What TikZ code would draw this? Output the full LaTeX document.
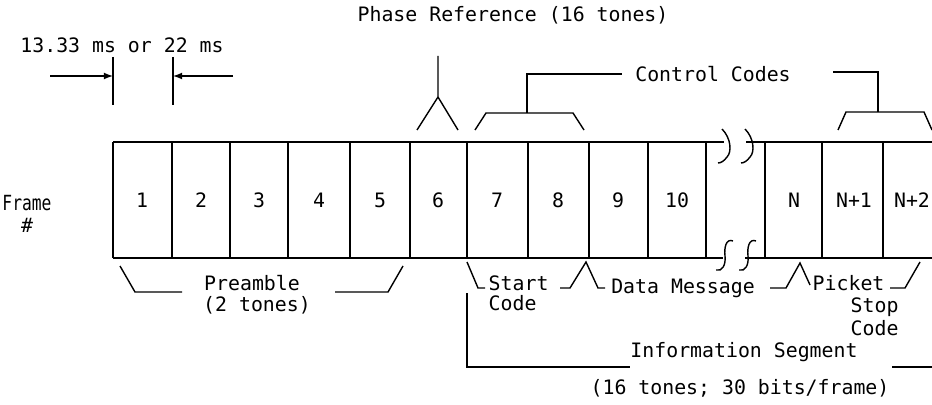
\documentclass[tikz,border=0pt]{standalone}
\usepackage{fontspec}
\setmonofont{DejaVu Sans Mono}

\begin{document}
\begin{tikzpicture}[x=0.02cm, y=-0.02cm, line width=0.8pt,
        every node/.style={font=\ttfamily\fontsize{11.3}{13}\selectfont, inner sep=0pt}]
        \useasboundingbox (0,0) rectangle (932,405);
        %\draw[step=50,gray,very thin] (0,0) grid (932,405);

        % the strip of frames
        \draw (113,142) -- (724,142) (746,142) -- (932,142);
        \draw (113,258) -- (723,258) (745,258) -- (932,258);
        \foreach \x in {113,172,230,288,350,410,467,528,589,648,706,765,822,883}
            \draw (\x,142) -- (\x,258);

        \foreach \x/\n/\name in {142/1/f_one, 201/2/f_two, 259/3/f_three, 319/4/f_four,
                380/5/f_five, 438/6/f_six, 497/7/f_seven, 558/8/f_eight, 618/9/f_nine,
                677/10/f_ten, 794/N/f_n, 854/N+1/f_na, 912/N+2/f_nb}
            \node (\name) at (\x,200) {\n};

        % breaks
        \foreach \dx in {0,23} {
            \draw[shift={(\dx,0)}] (722,129) .. controls (731,138) and (732,152) .. (727,157)
                .. controls (724,161) and (721,163) .. (718,163);
            \draw[shift={(\dx,0)}] (733,241) .. controls (726,238) and (724,248) .. (725,256)
                .. controls (726,265) and (722,272) .. (716,270);
        }

        \node (frame) at (27,203) {\scalebox{0.82}[1.05]{Frame}};
        \node (hash) at (27,225) {\#};

        % frame period
        \node (period) at (122,45) {13.33 ms or 22 ms};
        \coordinate (tick_l) at (113,76);
        \coordinate (tick_r) at (173,76);
        \draw (113,57) -- (113,105);
        \draw (173,57) -- (173,105);
        \draw[-latex] (50,76) -- (tick_l);
        \draw[-latex] (233,76) -- (tick_r);

        % phase reference
        \node (phase) at (513,15) {Phase Reference (16 tones)};
        \coordinate (ph_fork) at (438,97);
        \draw (438,56) -- (ph_fork) -- (417,130);
        \draw (ph_fork) -- (458,130);

        % control codes
        \node (ctrl) at (713,74) {Control Codes};
        \coordinate (cc_a) at (527,113);
        \coordinate (cc_b) at (878,112);
        \draw (475,130) -- (486,113) -- (573,113) -- (584,130);
        \draw (cc_a) -- (527,74) -- (622,74);
        \draw (838,130) -- (846,112) -- (924,112) -- (932,130);
        \draw (cc_b) -- (878,72) -- (833,72);

        % preamble
        \node (preamble) at (252,283) {Preamble};
        \node (tones_two) at (257,305) {(2 tones)};
        \draw (120,266) -- (135,292) -- (182,292);
        \draw (335,292) -- (388,292) -- (403,266);

        % start / data / stop
        \node[anchor=west] (start) at (488,283) {Start};
        \node[anchor=west] (start_code) at (488,303) {Code};
        \node (data) at (683,288) {Data Message};
        \node[anchor=west] (picket) at (812,283) {Picket};
        \node[anchor=west] (stop) at (850,307) {Stop};
        \node[anchor=west] (stop_code) at (850,328) {Code};
        \draw (467,262) -- (478,288) -- (485,288);
        \draw (560,288) -- (570,288) -- (586,262) -- (598,288) -- (605,288);
        \draw (770,288) -- (786,288) -- (800,263) -- (810,285);
        \draw (890,288) -- (905,288) -- (920,262);

        % information segment
        \node (info) at (744,352) {Information Segment};
        \node (tones_info) at (740,388) {(16 tones; 30 bits/frame)};
        \draw (467,293) -- (467,367) -- (630,367);
        \draw (892,367) -- (932,367);
\end{tikzpicture}
\end{document}
